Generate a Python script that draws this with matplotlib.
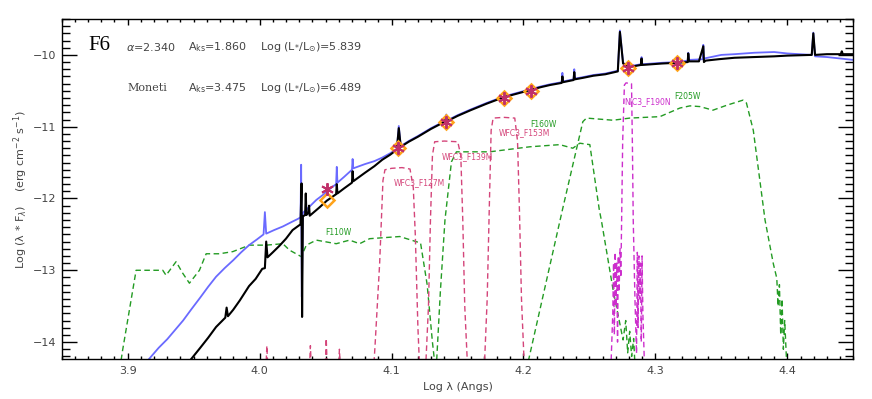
import numpy as np
import matplotlib
matplotlib.use("Agg")
import matplotlib.pyplot as plt
from matplotlib.ticker import MultipleLocator

# photometry (log lambda, observed, model)
phot_lam = [4.051, 4.105, 4.1416, 4.1853, 4.206, 4.2794, 4.3166]
phot_obs = [-11.87, -11.30, -10.93, -10.60, -10.50, -10.18, -10.11]
phot_mod = [-12.02, -11.30, -10.93, -10.60, -10.50, -10.18, -10.11]

# model SED (black)
mod_lam = [3.940, 3.948, 3.955, 3.961, 3.967, 3.974, 3.975, 3.976, 3.980, 3.985, 3.992, 3.997,
           4.002, 4.004, 4.005, 4.006, 4.010, 4.015, 4.020, 4.025, 4.031, 4.0318, 4.0322, 4.0328,
           4.0345, 4.035, 4.0355, 4.037, 4.0375, 4.038, 4.045, 4.051, 4.058, 4.0585, 4.059,
           4.064, 4.070, 4.0705, 4.071, 4.080, 4.087, 4.093, 4.099, 4.104, 4.1055, 4.107, 4.113,
           4.120, 4.130, 4.1405, 4.1415, 4.1425, 4.150, 4.160, 4.172, 4.185, 4.195, 4.205,
           4.213, 4.220, 4.229, 4.2295, 4.230, 4.238, 4.2385, 4.239, 4.245, 4.253, 4.262,
           4.2715, 4.2731, 4.2755, 4.280, 4.2890, 4.2895, 4.2900, 4.305, 4.316, 4.3245, 4.3249,
           4.3255, 4.333, 4.3363, 4.3368, 4.338, 4.348, 4.360, 4.375, 4.390, 4.400, 4.4185,
           4.4197, 4.4210, 4.430, 4.4405, 4.4413, 4.442, 4.450]
mod_flx = [-14.40, -14.24, -14.08, -13.94, -13.79, -13.66, -13.52, -13.64, -13.55, -13.42, -13.22, -13.12,
           -12.98, -12.97, -12.60, -12.82, -12.75, -12.66, -12.56, -12.44, -12.36, -11.79, -13.65, -12.25,
           -12.23, -11.93, -12.23, -12.20, -12.10, -12.24, -12.13, -12.03, -11.94, -11.80, -11.93,
           -11.86, -11.78, -11.62, -11.76, -11.64, -11.55, -11.46, -11.39, -11.32, -11.02, -11.28, -11.21,
           -11.14, -11.03, -10.93, -10.85, -10.92, -10.85, -10.77, -10.68, -10.59, -10.54, -10.49,
           -10.45, -10.42, -10.39, -10.30, -10.38, -10.35, -10.24, -10.34, -10.32, -10.29, -10.27,
           -10.23, -9.68, -10.12, -10.17, -10.14, -10.05, -10.14, -10.12, -10.11, -10.10, -9.98,
           -10.09, -10.09, -9.88, -10.10, -10.08, -10.06, -10.04, -10.03, -10.02, -10.01, -10.00,
           -9.70, -10.00, -9.99, -9.99, -9.95, -9.99, -9.99]

# observed spectrum (blue)
obs_lam = [3.914, 3.916, 3.9235, 3.930, 3.936, 3.942, 3.948, 3.955, 3.961, 3.967, 3.9735, 3.980,
           3.986, 3.992, 3.998, 4.003, 4.004, 4.005, 4.011, 4.0176, 4.024, 4.0295, 4.031, 4.0315,
           4.032, 4.0328, 4.038, 4.043, 4.048, 4.053, 4.058, 4.0585, 4.059, 4.064, 4.070, 4.0705,
           4.071, 4.080, 4.087, 4.093, 4.099, 4.104, 4.1055, 4.107, 4.113, 4.120, 4.130, 4.1405,
           4.1415, 4.1425, 4.150, 4.160, 4.172, 4.185, 4.195, 4.205, 4.213, 4.220, 4.229, 4.2295,
           4.230, 4.238, 4.2385, 4.239, 4.245, 4.253, 4.262, 4.2715, 4.2731, 4.2755, 4.280, 4.289,
           4.2895, 4.290, 4.305, 4.316, 4.3245, 4.3249, 4.3255, 4.336, 4.3363, 4.3368, 4.337,
           4.350, 4.360, 4.375, 4.390, 4.400, 4.4185, 4.4197, 4.4210, 4.430, 4.440, 4.450]
obs_flx = [-14.30, -14.24, -14.08, -13.96, -13.83, -13.70, -13.55, -13.38, -13.23, -13.09, -12.97, -12.86,
           -12.75, -12.65, -12.57, -12.50, -12.19, -12.49, -12.44, -12.39, -12.33, -12.28, -12.26, -11.53,
           -13.37, -12.20, -12.11, -12.02, -11.95, -11.87, -11.80, -11.56, -11.78, -11.70, -11.60, -11.45,
           -11.58, -11.52, -11.48, -11.43, -11.37, -11.31, -10.99, -11.27, -11.20, -11.13, -11.02, -10.92,
           -10.83, -10.91, -10.84, -10.76, -10.67, -10.58, -10.53, -10.48, -10.44, -10.41, -10.38, -10.25,
           -10.37, -10.34, -10.20, -10.33, -10.31, -10.28, -10.26, -10.22, -9.66, -10.11, -10.16, -10.13,
           -10.03, -10.13, -10.11, -10.10, -10.08, -9.97, -10.07, -10.06, -9.86, -10.07, -10.05,
           -10.00, -9.99, -9.97, -9.96, -9.98, -10.00, -9.69, -10.02, -10.03, -10.05, -10.07]

# filter transmission curves (scaled)
f110w_lam = [3.893, 3.8962, 3.9064, 3.9165, 3.9266, 3.9291, 3.9367, 3.9417, 3.9468, 3.9544, 3.9595,
             3.9696, 3.9797, 3.9923, 4.005, 4.0176, 4.0227, 4.0316, 4.0354, 4.043, 4.0581, 4.0682,
             4.0758, 4.0834, 4.1062, 4.115, 4.122, 4.127, 4.131, 4.134]
f110w_flx = [-14.5, -14.11, -13.00, -13.00, -13.00, -13.07, -12.88, -13.04, -13.18, -13.00, -12.77,
             -12.77, -12.74, -12.65, -12.65, -12.63, -12.72, -12.81, -12.65, -12.58, -12.63, -12.58,
             -12.63, -12.56, -12.53, -12.58, -12.62, -13.2, -14.0, -14.5]

f160w_lam = [4.1335, 4.137, 4.1405, 4.1454, 4.1492, 4.1744, 4.2048, 4.2275, 4.2374, 4.2427, 4.2503,
             4.2575, 4.2590, 4.2680, 4.2755, 4.2775, 4.279, 4.2805, 4.282, 4.2835, 4.285]
f160w_flx = [-14.5, -13.3, -12.3, -11.49, -11.35, -11.35, -11.28, -11.25, -11.30, -11.23, -11.25,
             -12.16, -12.30, -13.28, -13.97, -13.70, -14.15, -13.85, -14.2, -13.95, -14.5]

f205w_lam = [4.199, 4.2040, 4.2295, 4.2450, 4.2478, 4.2678, 4.2807, 4.3034, 4.3186, 4.3262, 4.3338,
             4.3436, 4.3543, 4.3664, 4.3690, 4.3742, 4.3831, 4.3894, 4.3920, 4.393, 4.394, 4.395,
             4.396, 4.397, 4.398, 4.400]
f205w_flx = [-14.5, -14.24, -12.16, -10.93, -10.88, -10.91, -10.88, -10.86, -10.74, -10.71, -10.72,
             -10.77, -10.70, -10.63, -10.67, -11.05, -12.30, -12.91, -13.11, -13.5, -13.2, -13.9,
             -13.4, -14.1, -13.7, -14.5]

f127m_lam = [3.990, 4.0045, 4.0055, 4.0065, 4.0375, 4.0385, 4.0395, 4.0495, 4.0505, 4.0515, 4.0595,
             4.0605, 4.0615, 4.086, 4.0875, 4.091, 4.0935, 4.095, 4.100, 4.108, 4.114, 4.1165,
             4.118, 4.120, 4.121, 4.123]
f127m_flx = [-14.5, -14.5, -14.05, -14.5, -14.5, -14.05, -14.5, -14.5, -13.95, -14.5, -14.5,
             -14.1, -14.5, -14.5, -14.05, -12.9, -11.75, -11.60, -11.58, -11.57, -11.59, -11.85,
             -12.5, -13.8, -14.24, -14.5]

f139m_lam = [4.1255, 4.128, 4.1295, 4.131, 4.1327, 4.140, 4.1502, 4.1525, 4.154, 4.1555, 4.158]
f139m_flx = [-14.5, -13.5, -12.3, -11.4, -11.21, -11.20, -11.21, -11.4, -12.3, -13.5, -14.5]

f153m_lam = [4.170, 4.1725, 4.174, 4.1755, 4.177, 4.185, 4.1934, 4.1955, 4.197, 4.1985, 4.201]
f153m_flx = [-14.5, -13.4, -12.2, -11.05, -10.88, -10.87, -10.88, -11.2, -12.2, -13.4, -14.5]

f190n_lam = [4.266, 4.2677, 4.2683, 4.2689, 4.2695, 4.2701, 4.2707, 4.2713, 4.2719, 4.2725, 4.2732,
             4.2738, 4.2744, 4.2752, 4.2765, 4.2777, 4.2819, 4.2826, 4.2832, 4.2845, 4.2857,
             4.2863, 4.2869, 4.2875, 4.2881, 4.2887, 4.2893, 4.2899, 4.2905, 4.292]
f190n_flx = [-14.5, -13.6, -12.9, -13.9, -12.75, -13.5, -12.9, -14.0, -12.8, -13.3, -12.7,
             -13.1, -12.30, -11.2, -10.42, -10.39, -10.40, -11.3, -12.30, -13.4, -14.16,
             -12.75, -13.8, -12.8, -13.4, -12.9, -14.0, -12.8, -13.6, -14.5]

green = "#239b23"
pink = "#d4457a"
magenta = "#cc2ecc"
txt = "#444444"

fig = plt.figure(figsize=(8.72, 3.99), dpi=100)
ax = fig.add_axes([61.7/872, (399-359.3)/399, (853.3-61.7)/872, (359.3-19)/399])

dash = (4, 2.5)
for lam, flx, c in [(f110w_lam, f110w_flx, green), (f160w_lam, f160w_flx, green),
                    (f205w_lam, f205w_flx, green), (f127m_lam, f127m_flx, pink),
                    (f139m_lam, f139m_flx, pink), (f153m_lam, f153m_flx, pink),
                    (f190n_lam, f190n_flx, magenta)]:
    ax.plot(lam, flx, color=c, lw=1.0, dashes=dash)

ax.plot(obs_lam, obs_flx, color="#6a6aff", lw=1.3)
ax.plot(mod_lam, mod_flx, color="black", lw=1.5)

ax.plot(phot_lam, phot_mod, ls="none", marker="D", ms=7, mfc="none", mec="#ffa31a", mew=1.8)
ax.plot(phot_lam, phot_obs, ls="none", marker=(6, 2, 0), ms=9, mec="#c0306a", mew=1.4)

# filter labels
fs = 5.5
ax.text(4.0598, -12.48, "F110W", color=green, fontsize=fs, ha="center", va="center")
ax.text(4.1213, -11.78, "WFC3_F127M", color=pink, fontsize=fs, ha="center", va="center")
ax.text(4.1577, -11.41, "WFC3_F139M", color=pink, fontsize=fs, ha="center", va="center")
ax.text(4.2010, -11.08, "WFC3_F153M", color=pink, fontsize=fs, ha="center", va="center")
ax.text(4.2154, -10.97, "F160W", color=green, fontsize=fs, ha="center", va="center")
ax.text(4.2943, -10.65, "NIC3_F190N", color=magenta, fontsize=fs, ha="center", va="center")
ax.text(4.3246, -10.58, "F205W", color=green, fontsize=fs, ha="center", va="center")

ax.set_xlim(3.85, 4.45)
ax.set_ylim(-14.24, -9.5)
ax.xaxis.set_major_locator(MultipleLocator(0.1))
ax.xaxis.set_minor_locator(MultipleLocator(0.01))
ax.yaxis.set_major_locator(MultipleLocator(1))
ax.yaxis.set_minor_locator(MultipleLocator(0.1))
ax.tick_params(which="both", direction="in", top=True, right=True, width=1.0,
               labelsize=8, labelcolor=txt)
ax.tick_params(axis="x", which="major", length=4.3, pad=5)
ax.tick_params(axis="x", which="minor", length=2.5)
ax.tick_params(axis="y", which="major", length=11, pad=4)
ax.tick_params(axis="y", which="minor", length=5.8)
for s in ax.spines.values():
    s.set_linewidth(1.0)

ax.set_xlabel("Log λ (Angs)", fontsize=8, color=txt, labelpad=4)
ax.set_ylabel(r"Log (λ * F$_{\lambda}$)    (erg cm$^{-2}$ s$^{-1}$)", fontsize=8,
              color=txt, labelpad=2)

# header annotations
def px(x, y):
    return x / 872, 1 - y / 399

fig.text(*px(88, 46), "F6", fontsize=15, family="Liberation Serif", va="center", ha="left")
fig.text(*px(126, 47), r"$\alpha$=2.340", fontsize=8, color=txt, va="center")
fig.text(*px(188, 47), r"A$_{\rm ks}$=1.860", fontsize=8, color=txt, va="center")
fig.text(*px(260, 47), r"Log (L$_{*}$/L$_{\odot}$)=5.839", fontsize=8, color=txt, va="center")
fig.text(*px(127, 88), "Moneti", fontsize=8, color=txt, va="center", family="DejaVu Serif")
fig.text(*px(188, 88), r"A$_{\rm ks}$=3.475", fontsize=8, color=txt, va="center")
fig.text(*px(260, 88), r"Log (L$_{*}$/L$_{\odot}$)=6.489", fontsize=8, color=txt, va="center")

fig.savefig("out.png", dpi=100)
